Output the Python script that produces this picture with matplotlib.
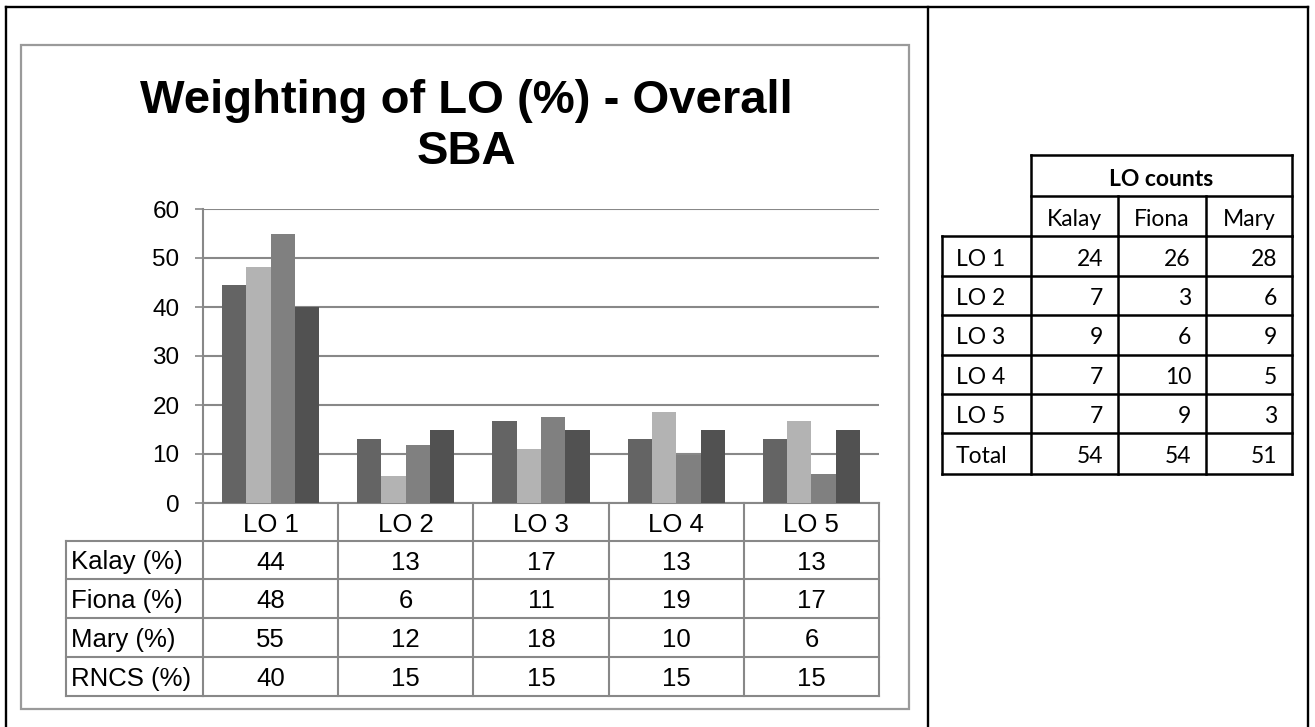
import matplotlib
matplotlib.use("Agg")
import matplotlib.pyplot as plt
from matplotlib.transforms import Affine2D, blended_transform_factory
from matplotlib.patches import Rectangle
from matplotlib.lines import Line2D
import numpy as np

# ---- data ----
categories = ["LO 1", "LO 2", "LO 3", "LO 4", "LO 5"]
series_names = ["Kalay (%)", "Fiona (%)", "Mary (%)", "RNCS (%)"]
kalay = [44.4, 13.0, 16.7, 13.0, 13.0]
fiona = [48.1, 5.6, 11.1, 18.5, 16.7]
mary = [54.9, 11.8, 17.6, 9.8, 5.9]
rncs = [40, 15, 15, 15, 15]
kalay_lbl = ["44", "13", "17", "13", "13"]
fiona_lbl = ["48", "6", "11", "19", "17"]
mary_lbl = ["55", "12", "18", "10", "6"]
rncs_lbl = ["40", "15", "15", "15", "15"]
yticks = [0, 10, 20, 30, 40, 50, 60]
title = "Weighting of LO (%) - Overall\nSBA"

count_header = "LO counts"
count_cols = ["Kalay", "Fiona", "Mary"]
count_rows = ["LO 1", "LO 2", "LO 3", "LO 4", "LO 5", "Total"]
count_kalay = [24, 7, 9, 7, 7, 54]
count_fiona = [26, 3, 6, 10, 9, 54]
count_mary = [28, 6, 9, 5, 3, 51]

# ---- figure ----
W, H = 1315, 727
fig = plt.figure(figsize=(W / 100, H / 100), dpi=100)
px = Affine2D().scale(1 / W, -1 / H).translate(0, 1) + fig.transFigure  # pixel coords, top-origin

ARIAL = "Liberation Sans"
CALIBRI = ["Lato", "DejaVu Sans"]
GRID = "#888888"
TFS = 18.5   # data table font size
CFS = 16.5   # counts table font size

def fline(xs, ys, color="black", lw=1.5, transform=None, z=5):
    fig.add_artist(Line2D(xs, ys, color=color, lw=lw, transform=transform or px,
                          zorder=z, solid_capstyle="projecting"))

# outer frame
fline([6, 1308], [7, 7], lw=1.7)
fline([6, 6], [7, 730], lw=1.7)
fline([1308, 1308], [7, 730], lw=1.7)
fline([928, 928], [7, 730], lw=1.7)

# chart box
fig.add_artist(Rectangle((21, 45), 888, 664, transform=px, fill=False,
                         edgecolor="#9a9a9a", lw=1.6, zorder=4))

# title (baseline of last line)
fig.text(466, 164, title, transform=px, ha="center", va="baseline",
         fontsize=34, fontweight="bold", family=ARIAL, linespacing=1.2)

# ---- plot area ----
L, R, T, B = 203, 879, 209, 503
ax = fig.add_axes([L / W, 1 - B / H, (R - L) / W, (B - T) / H])
ax.set_xlim(-0.5, len(categories) - 0.5)
ax.set_ylim(0, 60)
x = np.arange(len(categories))
colors = ["#646464", "#b3b3b3", "#808080", "#515151"]
bw = 0.18
for i, (vals, c) in enumerate(zip([kalay, fiona, mary, rncs], colors)):
    ax.bar(x + (i - 1.5) * bw, vals, width=bw, color=c, zorder=3)
ax.set_yticks(yticks)
ax.set_yticklabels([str(v) for v in yticks], fontsize=17.5, family=ARIAL)
ax.yaxis.grid(True, color=GRID, lw=1.5, zorder=0)
ax.set_axisbelow(True)
ax.tick_params(axis="y", length=6, width=1.2, color=GRID, pad=11)
ax.set_xticks([])
for s in ["top", "right"]:
    ax.spines[s].set_visible(False)
ax.spines["left"].set_color(GRID)
ax.spines["left"].set_linewidth(1.5)
ax.spines["bottom"].set_color(GRID)
ax.spines["bottom"].set_linewidth(1.5)

# ---- data table under the plot ----
bt = blended_transform_factory(ax.transData, px)
row_edges = [503, 541, 579, 618, 657, 696]
edges_x = list(np.arange(len(categories) + 1) - 0.5)
for xe in edges_x:
    fline([xe, xe], [503, 696], color=GRID, lw=1.5, transform=bt, z=6)
for ye in row_edges[1:]:
    fline([66, L], [ye, ye], color=GRID, lw=1.5, z=6)
    fline([-0.5, 4.5], [ye, ye], color=GRID, lw=1.5, transform=bt, z=6)
fline([66, 66], [541, 696], color=GRID, lw=1.5, z=6)
for xi, cat in zip(x, categories):
    fig.text(xi, 522, cat, transform=bt, ha="center", va="center_baseline",
             fontsize=TFS, family=ARIAL)
rows = [kalay_lbl, fiona_lbl, mary_lbl, rncs_lbl]
for r, (name, labels) in enumerate(zip(series_names, rows)):
    yc = (row_edges[r + 1] + row_edges[r + 2]) / 2
    fig.text(71, yc, name, transform=px, ha="left", va="center_baseline",
             fontsize=TFS, family=ARIAL)
    for xi, lab in zip(x, labels):
        fig.text(xi, yc, lab, transform=bt, ha="center", va="center_baseline",
                 fontsize=TFS, family=ARIAL)

# ---- right-hand table ----
tcol = [942, 1031, 1118, 1206, 1292]
trow = [236, 276, 315, 355, 394, 433, 474]
lw_t = 1.8
fline([1031, 1292], [155, 155], lw=lw_t)
fline([1031, 1292], [196, 196], lw=lw_t)
fline([1031, 1031], [155, 236], lw=lw_t)
fline([1292, 1292], [155, 236], lw=lw_t)
for xc in tcol[2:4]:
    fline([xc, xc], [196, 236], lw=lw_t)
fig.text((1031 + 1292) / 2, 177, count_header, transform=px, ha="center",
         va="center_baseline", fontsize=CFS, fontweight="bold", family=CALIBRI)
for j, name in enumerate(count_cols):
    fig.text((tcol[j + 1] + tcol[j + 2]) / 2, 217, name, transform=px,
             ha="center", va="center_baseline", fontsize=CFS, family=CALIBRI)
for ye in trow:
    fline([tcol[0], tcol[-1]], [ye, ye], lw=lw_t)
for xc in tcol:
    fline([xc, xc], [trow[0], trow[-1]], lw=lw_t)
for r, name in enumerate(count_rows):
    yc = (trow[r] + trow[r + 1]) / 2 + 1
    fig.text(tcol[0] + 14, yc, name, transform=px, ha="left",
             va="center_baseline", fontsize=CFS, family=CALIBRI)
    for j, vals in enumerate([count_kalay, count_fiona, count_mary]):
        fig.text(tcol[j + 2] - 15, yc, str(vals[r]), transform=px, ha="right",
                 va="center_baseline", fontsize=CFS, family=CALIBRI)

fig.savefig("out.png", dpi=100)
